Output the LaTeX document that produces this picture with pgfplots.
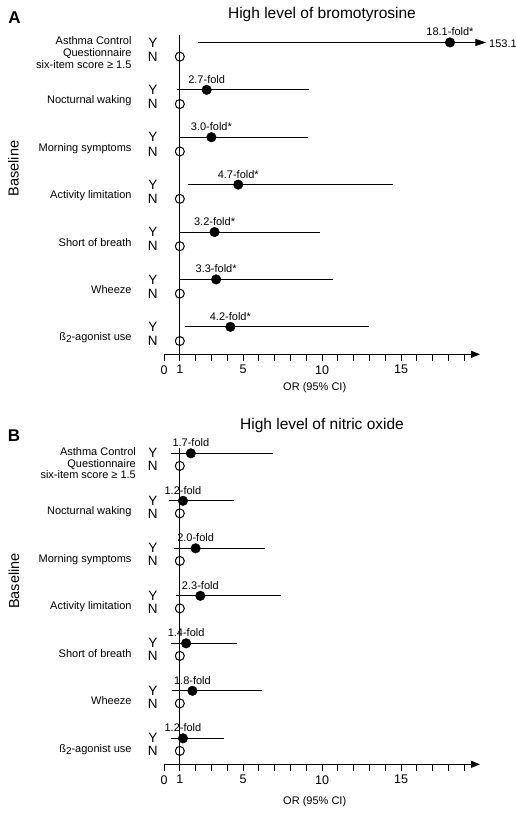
\documentclass[border=0pt]{standalone}
\usepackage{pgfplots}
\pgfplotsset{compat=1.18}
\usepackage{pgfplotstable}
\usetikzlibrary{arrows.meta}
\usepackage{fontspec}
\setmainfont{Liberation Sans}
\newcommand{\fs}{\fontsize{11bp}{13bp}\selectfont}
\newcommand{\yn}{\fontsize{13.5bp}{15bp}\selectfont}

% rows numbered from the bottom (1 = beta2-agonist use, 7 = ACQ)
\pgfplotstableread{
row or lo hi label
7 18.1 2.13 19.6 18.1-fold*
6 2.7 0.84 9.2 2.7-fold
5 3.0 1.04 9.1 3.0-fold*
4 4.7 1.54 14.5 4.7-fold*
3 3.2 1.04 9.9 3.2-fold*
2 3.3 1.04 10.7 3.3-fold*
1 4.2 1.33 13.0 4.2-fold*
}\tabA

\pgfplotstableread{
row or lo hi label
7 1.7 0.42 6.92 1.7-fold
6 1.2 0.34 4.43 1.2-fold
5 2.0 0.63 6.39 2.0-fold
4 2.3 0.74 7.40 2.3-fold
3 1.4 0.42 4.60 1.4-fold
2 1.8 0.53 6.22 1.8-fold
1 1.2 0.42 3.80 1.2-fold
}\tabB

\pgfplotstableread{
x y
1 6.7
1 5.7
1 4.7
1 3.7
1 2.7
1 1.7
1 0.7
}\refA

\pgfplotstableread{
x y
1 6.735
1 5.735
1 4.735
1 3.735
1 2.735
1 1.735
1 0.735
}\refB

\pgfplotsset{forest/.style={
  scale only axis, width=316bp, xmin=0, xmax=20, ymax=7.6,
  axis x line=bottom, axis y line=none,
  x axis line style={-{Triangle[length=9bp,width=7bp]}, line width=0.9bp},
  xtick={0,1,5,10,15},
  minor xtick={2,3,4,6,7,8,9,11,12,13,14,16,17,18,19},
  xtick align=outside, major tick length=6.5bp, minor tick length=6.5bp,
  tick style={black, line width=0.9bp},
  xticklabel style={font=\fontsize{12.5bp}{14bp}\selectfont, yshift=-1bp},
  /pgf/number format/assume math mode=true,
  clip=false,
  ytick=\empty,
}}

\pgfplotsset{cibars/.style={only marks, mark=none,
  error bars/.cd, x dir=both, x explicit, error mark=none,
  error bar style={line width=1bp, black}}}

\pgfplotsset{pts/.style={only marks, mark=*, mark size=4.8bp,
  mark options={fill=black, draw=black},
  nodes near coords, point meta=explicit symbolic,
  every node near coord/.append style={anchor=base, yshift=6.5bp, font=\fs, inner sep=0pt, text=black}}}

\pgfplotsset{refpts/.style={only marks, mark=o, mark size=4.5bp,
  mark options={draw=black, line width=1bp}}}

\begin{document}
\begin{tikzpicture}
\useasboundingbox (0,0) rectangle (516bp,-815bp);

% ---------------- Panel A ----------------
\begin{axis}[forest, at={(164bp,-354.3bp)}, anchor=south west,
  height=340.3bp, ymin=0.42]
  \addplot[black, line width=1bp] coordinates {(1,0.42) (1,7.154)};
  \addplot[cibars] table[x=or, y=row,
     x error plus expr=\thisrow{hi}-\thisrow{or},
     x error minus expr=\thisrow{or}-\thisrow{lo}] {\tabA};
  \addplot[black, line width=1bp, -{Triangle[length=11bp,width=7bp]}]
     coordinates {(18.1,7) (20.4,7)};
  \addplot[refpts] table[x=x, y=y] {\refA};
  \addplot[pts] table[x=or, y=row, meta=label] {\tabA};

  \node[anchor=west, inner sep=0pt, font=\fs, yshift=-1.5bp] at (axis cs:20.57,7) {153.1};

  % Y / N letters
  \pgfplotsinvokeforeach{1,...,7}{
    \node[font=\yn, inner sep=0pt] at (axis cs:-0.71,#1) {Y};
    \node[font=\yn, inner sep=0pt] at (axis cs:-0.71,#1-0.3) {N};
  }
  % category labels
  \node[anchor=base east, inner sep=0pt, font=\fs] at (axis cs:-2.044,6.947) {Asthma Control};
  \node[anchor=base east, inner sep=0pt, font=\fs] at (axis cs:-2.044,6.698) {Questionnaire};
  \node[anchor=base east, inner sep=0pt, font=\fs] at (axis cs:-2.044,6.451) {six-item score ≥ 1.5};
  \node[anchor=base east, inner sep=0pt, font=\fs] at (axis cs:-2.044,5.705) {Nocturnal waking};
  \node[anchor=base east, inner sep=0pt, font=\fs] at (axis cs:-2.044,4.705) {Morning symptoms};
  \node[anchor=base east, inner sep=0pt, font=\fs] at (axis cs:-2.044,3.705) {Activity limitation};
  \node[anchor=base east, inner sep=0pt, font=\fs] at (axis cs:-2.044,2.705) {Short of breath};
  \node[anchor=base east, inner sep=0pt, font=\fs] at (axis cs:-2.044,1.705) {Wheeze};
  \node[anchor=base east, inner sep=0pt, font=\fs] at (axis cs:-2.044,0.705) {ß\raisebox{-0.35ex}{\fontsize{10bp}{11bp}\selectfont 2}-agonist use};
\end{axis}

% ---------------- Panel B ----------------
\begin{axis}[forest, at={(164bp,-764.3bp)}, anchor=south west,
  height=339.5bp, ymin=0.453]
  \addplot[black, line width=1bp] coordinates {(1,0.453) (1,7.118)};
  \addplot[cibars] table[x=or, y=row,
     x error plus expr=\thisrow{hi}-\thisrow{or},
     x error minus expr=\thisrow{or}-\thisrow{lo}] {\tabB};
  \addplot[refpts] table[x=x, y=y] {\refB};
  \addplot[pts] table[x=or, y=row, meta=label] {\tabB};

  \pgfplotsinvokeforeach{1,...,7}{
    \node[font=\yn, inner sep=0pt] at (axis cs:-0.71,#1) {Y};
    \node[font=\yn, inner sep=0pt] at (axis cs:-0.71,#1-0.265) {N};
  }
  \node[anchor=base east, inner sep=0pt, font=\fs] at (axis cs:-1.77,6.958) {Asthma Control};
  \node[anchor=base east, inner sep=0pt, font=\fs] at (axis cs:-1.77,6.71) {Questionnaire};
  \node[anchor=base east, inner sep=0pt, font=\fs] at (axis cs:-1.77,6.463) {six-item score ≥ 1.5};
  \node[anchor=base east, inner sep=0pt, font=\fs] at (axis cs:-2.044,5.705) {Nocturnal waking};
  \node[anchor=base east, inner sep=0pt, font=\fs] at (axis cs:-2.044,4.705) {Morning symptoms};
  \node[anchor=base east, inner sep=0pt, font=\fs] at (axis cs:-2.044,3.705) {Activity limitation};
  \node[anchor=base east, inner sep=0pt, font=\fs] at (axis cs:-2.044,2.705) {Short of breath};
  \node[anchor=base east, inner sep=0pt, font=\fs] at (axis cs:-2.044,1.705) {Wheeze};
  \node[anchor=base east, inner sep=0pt, font=\fs] at (axis cs:-2.044,0.705) {ß\raisebox{-0.35ex}{\fontsize{10bp}{11bp}\selectfont 2}-agonist use};
\end{axis}

% titles, panel letters, axis labels
\node[font=\fontsize{15.5bp}{18bp}\selectfont] at (322bp,-14bp) {High level of bromotyrosine};
\node[font=\fontsize{15.5bp}{18bp}\selectfont] at (322bp,-425bp) {High level of nitric oxide};
\node[font=\bfseries\fontsize{17bp}{19bp}\selectfont] at (14.5bp,-17.5bp) {A};
\node[font=\bfseries\fontsize{17bp}{19bp}\selectfont] at (14bp,-435.5bp) {B};
\node[rotate=90, font=\fontsize{14.5bp}{16bp}\selectfont] at (13.5bp,-168.5bp) {Baseline};
\node[rotate=90, font=\fontsize{14.5bp}{16bp}\selectfont] at (14bp,-581bp) {Baseline};
\node[font=\fs] at (314.7bp,-388bp) {OR (95\% CI)};
\node[font=\fs] at (314.7bp,-801.7bp) {OR (95\% CI)};
\end{tikzpicture}
\end{document}
